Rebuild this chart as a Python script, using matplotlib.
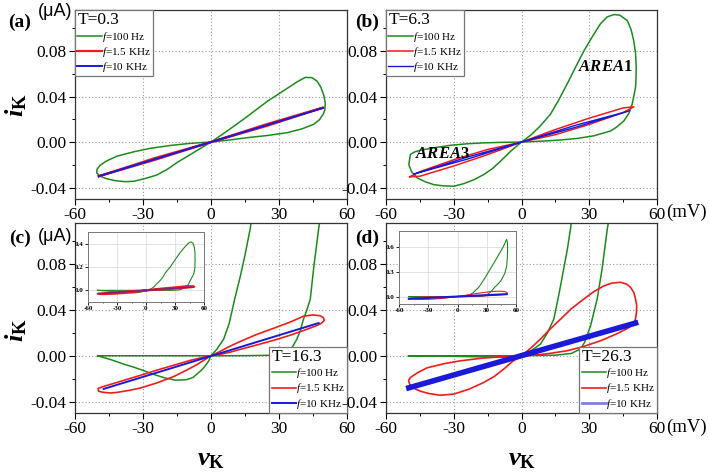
import matplotlib
matplotlib.use("Agg")
import matplotlib.pyplot as plt
from matplotlib.ticker import MultipleLocator, FormatStrFormatter

plt.rcParams['font.family'] = ['Liberation Serif', 'DejaVu Serif']
plt.rcParams['axes.unicode_minus'] = False
plt.rcParams['mathtext.fontset'] = 'custom'
plt.rcParams['mathtext.rm'] = 'Liberation Serif'
plt.rcParams['mathtext.it'] = 'Liberation Serif:italic'
plt.rcParams['mathtext.bf'] = 'Liberation Serif:bold:italic'
plt.rcParams['mathtext.sf'] = 'Liberation Serif:bold'

# ---- data (v in mV, i in uA) ----
# panel (a) T=0.3
a_green_x = [0, 5, 10, 15, 20, 25, 30, 35, 38.5, 41.6, 44.5, 46.8, 48.5, 49.8, 50.4, 50.2, 49.5,
             47.8, 45.3, 40, 33.5, 25, 17.4, 8, 0, -5, -10, -15, -19.4, -24, -29, -34, -37.5, -42,
             -46, -49, -50.4, -50.3, -49, -46, -41.5, -34, -26.8, -18, -10, -4, 0]
a_green_y = [0, 0.0068, 0.0138, 0.021, 0.0285, 0.036, 0.0425, 0.049, 0.0535, 0.0568, 0.0566, 0.0535,
             0.048, 0.041, 0.034, 0.028, 0.0245, 0.0195, 0.0156, 0.0115, 0.0082, 0.0058, 0.0042,
             0.0018, 0, -0.006, -0.012, -0.018, -0.0241, -0.029, -0.032, -0.0344, -0.0348, -0.034,
             -0.0322, -0.030, -0.027, -0.024, -0.0205, -0.0165, -0.0124, -0.0085, -0.0055, -0.003,
             -0.0013, -0.0004, 0]
a_red_x = [-49.5, -25, 0, 25, 49.5, 25, 0, -25, -49.5]
a_red_y = [-0.030, -0.0142, 0, 0.0160, 0.0303, 0.0144, 0, -0.0158, -0.030]
a_blue_x = [-49.5, 49.5]
a_blue_y = [-0.030, 0.030]

# panel (b) T=6.3
b_green_x = [0, 4, 8, 12.8, 16.5, 20.2, 24, 27.6, 31.5, 35, 38, 40.9, 43.5, 46.8, 48.5, 49.7, 50.5,
             50.8, 50.7, 50.5, 49, 47.5, 45.3, 42, 39.4, 32, 24.7, 17, 9.9, 0, -4.5, -9.3, -13,
             -16.7, -21, -25.5, -30, -34.5, -38.8, -42.5, -46.2, -48.7, -49.9, -49.2, -47.5, -44.7,
             -38, -31.4, -24, -16.7, -8, 0]
b_green_y = [0, 0.006, 0.0135, 0.0244, 0.037, 0.051, 0.066, 0.080, 0.093, 0.104, 0.110, 0.112,
             0.1115, 0.1068, 0.099, 0.089, 0.078, 0.066, 0.056, 0.048, 0.0333, 0.025, 0.0185, 0.013,
             0.0097, 0.0055, 0.0032, 0.0018, 0.0009, 0, -0.0075, -0.0168, -0.0235, -0.0285, -0.033,
             -0.0365, -0.0388, -0.0385, -0.0374, -0.035, -0.0315, -0.026, -0.0197, -0.0109, -0.0088,
             -0.0071, -0.0048, -0.0028, -0.0015, -0.0007, -0.0002, 0]
b_red_x = [-49.5, -45, -30, -15, 0, 15, 30, 45, 49.8, 45, 30, 15, 0, -15, -30, -45, -49.5]
b_red_y = [-0.0305, -0.026, -0.0155, -0.0065, 0, 0.0065, 0.0155, 0.026, 0.031, 0.0300, 0.021,
           0.0110, 0, -0.011, -0.021, -0.030, -0.0305]
b_blue_x = [-47.5, -24, 0, 24, 48, 24, 0, -24, -47.5]
b_blue_y = [-0.028, -0.0132, 0, 0.0148, 0.0275, 0.0130, 0, -0.0150, -0.028]
area1_xy = (37.2, 0.066)
area3_xy = (-35.1, -0.0103)

# panel (c) T=16.3
c_green_x = [-50, -44, -38.5, -34, -30.4, -25, -20, -15.7, -11, -8, -6.2, -4, -2.5, -1, 0, 2.5,
             5.6, 8, 10.5, 13, 15, 17.3, 20, 25, 30, 35, 40, 44, 46.5, 48.5, 50, 50.6, 50.8, 50.5,
             49.5, 48.5, 47.5, 45.5, 43.8, 42.3, 40.8, 39.4, 37.9, 35.7, 33.5, 30, 25, 15, 0, -25, -50]
c_green_y = [0, -0.0035, -0.0073, -0.010, -0.0125, -0.0165, -0.0195, -0.0213, -0.021, -0.019,
             -0.016, -0.0122, -0.0087, -0.0045, 0, 0.0055, 0.0146, 0.028, 0.050, 0.070, 0.088,
             0.111, 0.15, 0.20, 0.26, 0.32, 0.37, 0.405, 0.415, 0.405, 0.37, 0.33, 0.26, 0.19,
             0.145, 0.125, 0.111, 0.08, 0.0496, 0.04, 0.032, 0.022, 0.0146, 0.007, 0.003, 0.001,
             0.0004, 0.0001, 0, 0, 0]
c_red_x = [0, 4, 8, 12.9, 20, 27.6, 35, 40.8, 44.8, 48, 49.5, 50, 48.8, 46.8, 41, 35, 27.6, 20.3,
           14, 8.5, 4, 0, -4, -9.1, -16, -23.8, -31, -38.5, -44, -47.4, -49.8, -49.6, -47.4, -44,
           -41.5, -36, -31.2, -24, -16.5, -11, -6.2, -3, 0]
c_red_y = [0, 0.0038, 0.008, 0.0125, 0.0185, 0.0240, 0.0295, 0.0345, 0.0357, 0.035, 0.0335,
           0.031, 0.0285, 0.0265, 0.0222, 0.018, 0.0135, 0.0095, 0.0062, 0.0032, 0.0012, 0,
           -0.0016, -0.0040, -0.0080, -0.0125, -0.0170, -0.0215, -0.0248, -0.0268, -0.0285, -0.031,
           -0.032, -0.0325, -0.032, -0.0302, -0.0282, -0.0238, -0.0182, -0.0128, -0.0077, -0.0037, 0]
c_blue_x = [-47.4, 47.5]
c_blue_y = [-0.029, 0.0286]

# panel (d) T=26.3
d_green_x = [-50, -30, -15, -8, -4, 0, 4, 8.4, 11.5, 14.3, 16.5, 18.7, 20.3, 21.7, 24, 28.1, 33,
             38.4, 43, 47, 50.4, 51.2, 51.4, 51, 50.4, 48.5, 45, 41.5, 38, 35.7, 33.5, 30.6, 28,
             26.1, 22, 15, 0, -25, -50]
d_green_y = [0, -0.0005, -0.001, -0.0012, -0.0008, 0, 0.004, 0.0102, 0.02, 0.032, 0.053, 0.076,
             0.093, 0.111, 0.15, 0.223, 0.32, 0.425, 0.52, 0.60, 0.689, 0.65, 0.547, 0.45, 0.36,
             0.28, 0.20, 0.15, 0.111, 0.076, 0.0496, 0.0263, 0.012, 0.0059, 0.002, 0.0005, 0, 0, 0]
d_red_x = [0, 4, 8.4, 12.5, 17.3, 22, 27.6, 32, 36.4, 40, 43.8, 46.5, 48.3, 49.8, 50.5, 51, 50.9,
           50.5, 49.7, 47, 42, 35, 27, 20.2, 13, 8, 0, -4, -7.8, -12, -16.7, -23, -30, -36, -41,
           -44.7, -47.5, -49.5, -50, -49.2, -46, -41.8, -34, -27, -18, -9.7, 0]
d_red_y = [0, 0.0065, 0.0146, 0.023, 0.032, 0.041, 0.0496, 0.056, 0.061, 0.0635, 0.0642, 0.0627,
           0.0598, 0.055, 0.0496, 0.044, 0.038, 0.0325, 0.0277, 0.024, 0.019, 0.0131, 0.0078,
           0.0044, 0.0022, 0.001, 0, -0.005, -0.0115, -0.018, -0.0233, -0.029, -0.0335, -0.0345,
           -0.033, -0.031, -0.0285, -0.025, -0.0215, -0.019, -0.0148, -0.0105, -0.0068, -0.0044,
           -0.0022, -0.001, 0]
d_blue_x = [-49.9, 50.5]
d_blue_y = [-0.0280, 0.0286]

labels = ["$f$=100 Hz", "$f$=1.5 KHz", "$f$=10 KHz"]
temps = ["T=0.3", "T=6.3", "T=16.3", "T=26.3"]
x_ticks = [-60, -30, 0, 30, 60]
y_ticks = [-0.04, 0.00, 0.04, 0.08]
inset_c_yticks = [0.0, 0.2, 0.4]
inset_d_yticks = [0.0, 0.3, 0.6]

GREEN = '#1e8a1e'
RED = '#f01c1c'
BLUE = '#1a1ad8'
W, H = 709, 473


def box(px_left, px_top, px_right, px_bottom):
    return [px_left / W, 1 - px_bottom / H, (px_right - px_left) / W, (px_bottom - px_top) / H]


def style_main(ax):
    ax.set_xlim(-60, 60)
    ax.set_ylim(-0.05, 0.116)
    ax.set_xticks(x_ticks)
    ax.set_yticks(y_ticks)
    ax.xaxis.set_minor_locator(MultipleLocator(15))
    ax.yaxis.set_minor_locator(MultipleLocator(0.02))
    ax.yaxis.set_major_formatter(FormatStrFormatter('%.2f'))
    ax.tick_params(which='major', direction='out', length=4, width=0.8, labelsize=12.5, pad=2)
    ax.tick_params(which='minor', direction='out', length=2, width=0.7)
    ax.grid(True, which='major', linestyle=(0, (1, 2)), color='#999999', linewidth=0.8)
    for s in ax.spines.values():
        s.set_linewidth(0.9)
        s.set_color('#333333')


def style_inset(ax, yticks, ylim):
    ax.set_xlim(-60, 60)
    ax.set_ylim(*ylim)
    ax.set_xticks(x_ticks)
    ax.set_yticks(yticks)
    ax.xaxis.set_minor_locator(MultipleLocator(15))
    ax.yaxis.set_major_formatter(FormatStrFormatter('%.1f'))
    ax.tick_params(which='major', direction='out', length=2, width=0.6, labelsize=5, pad=1)
    ax.tick_params(which='minor', direction='out', length=1, width=0.5)
    for t in ax.get_xticklabels() + ax.get_yticklabels():
        t.set_fontweight('bold')
    ax.grid(True, color='#dddddd', linewidth=0.6)
    for s in ax.spines.values():
        s.set_linewidth(0.7)
        s.set_color('#777777')


def legend(ax, title, loc):
    leg = ax.legend(labels, title=title, loc=loc, fontsize=8, title_fontsize=12.5,
                    frameon=True, fancybox=False, framealpha=1, edgecolor='#777777',
                    borderaxespad=0, borderpad=0.2, labelspacing=0.12, handlelength=2.2,
                    handletextpad=0.0, alignment='left')
    leg.get_frame().set_linewidth(0.9)
    leg.get_title().set_position((0, 0))
    return leg


fig = plt.figure(figsize=(W / 100, H / 100), dpi=100)

ax_a = fig.add_axes(box(75, 10, 347, 199))
ax_b = fig.add_axes(box(386, 10, 657, 199))
ax_c = fig.add_axes(box(75, 223, 347, 413))
ax_d = fig.add_axes(box(386, 223, 657, 413))

# (a)
ax_a.plot(a_green_x, a_green_y, color=GREEN, lw=1.1)
ax_a.plot(a_red_x, a_red_y, color=RED, lw=1.6)
ax_a.plot(a_blue_x, a_blue_y, color=BLUE, lw=1.4)
style_main(ax_a)
legend(ax_a, temps[0], 'upper left')

# (b)
ax_b.plot(b_green_x, b_green_y, color=GREEN, lw=1.1)
ax_b.plot(b_red_x, b_red_y, color=RED, lw=1.1)
ax_b.plot(b_blue_x, b_blue_y, color=BLUE, lw=1.0)
style_main(ax_b)
legend(ax_b, temps[1], 'upper left')
ax_b.text(*area1_xy, r"$\mathbf{AREA}\mathsf{1}$", fontsize=12, ha='center', va='center')
ax_b.text(*area3_xy, r"$\mathbf{AREA}\mathsf{3}$", fontsize=12, ha='center', va='center')

# (c)
ax_c.plot(c_green_x, c_green_y, color=GREEN, lw=1.1)
ax_c.plot(c_red_x, c_red_y, color=RED, lw=1.2)
ax_c.plot(c_blue_x, c_blue_y, color=BLUE, lw=1.4)
style_main(ax_c)
legend(ax_c, temps[2], 'lower right')

# (d)
ax_d.plot(d_green_x, d_green_y, color=GREEN, lw=1.1)
ax_d.plot(d_red_x, d_red_y, color=RED, lw=1.2)
ax_d.plot(d_blue_x, d_blue_y, color=BLUE, lw=4)
style_main(ax_d)
leg_d = legend(ax_d, temps[3], 'lower right')
leg_d.get_lines()[2].set_color('#8080e0')
leg_d.get_lines()[2].set_linewidth(2)

# insets
in_c = fig.add_axes(box(88, 232, 204, 302))
in_c.plot(c_green_x, c_green_y, color=GREEN, lw=0.8)
in_c.plot(c_red_x, c_red_y, color=RED, lw=1.5)
in_c.plot(c_blue_x, c_blue_y, color='#8a1a8a', lw=1.2)
style_inset(in_c, inset_c_yticks, (-0.1, 0.5))

in_d = fig.add_axes(box(399, 231, 516, 304))
in_d.plot(d_green_x, d_green_y, color=GREEN, lw=0.8)
in_d.plot(d_red_x, d_red_y, color=RED, lw=0.8)
in_d.plot(d_blue_x, d_blue_y, color=BLUE, lw=1.5)
style_inset(in_d, inset_d_yticks, (-0.09, 0.79))


# figure labels
def ftext(px, py, s, ha='center', **kw):
    fig.text(px / W, 1 - py / H, s, ha=ha, va='center', **kw)


for px, py, s in [(20, 22, "(a)"), (367, 22, "(b)"), (20, 238, "(c)"), (367, 238, "(d)")]:
    ftext(px, py, s, fontsize=14, fontweight='bold')
for py in (11, 236):
    ftext(55, py, "(\u03bcA)", fontsize=13, family=['Liberation Sans', 'DejaVu Sans'])
for py in (212, 427):
    ftext(666, py, "(mV)", ha='left', fontsize=13.5)
for py in (105, 330):
    ftext(16, py, r"$\mathbf{i}_{\mathsf{K}}$", fontsize=19, rotation=90)
for px in (211, 522):
    ftext(px, 460, r"$\mathbf{v}_{\mathsf{K}}$", fontsize=19)

fig.savefig("out.png", dpi=100)
